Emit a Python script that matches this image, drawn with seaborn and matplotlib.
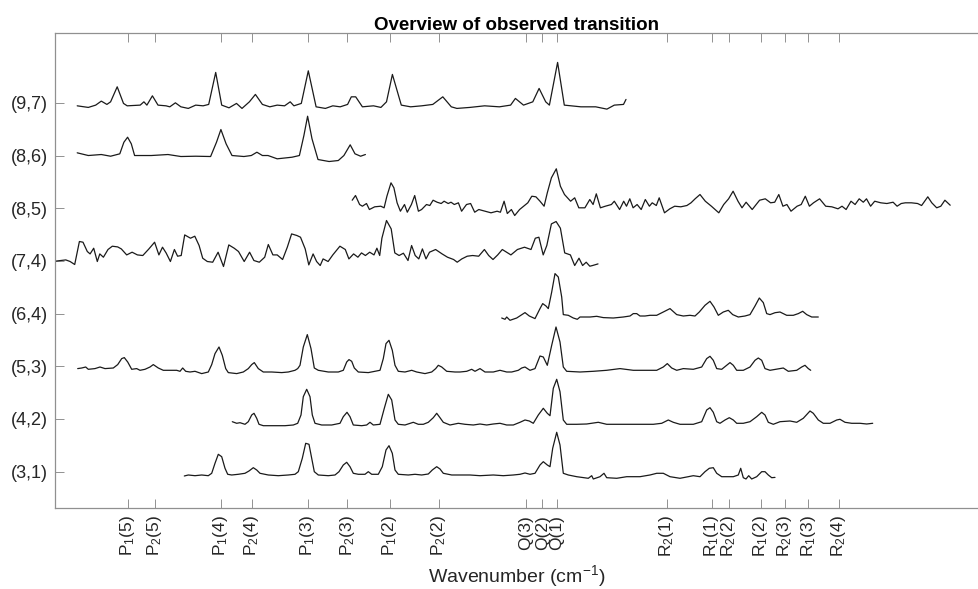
import numpy as np
import pandas as pd
import matplotlib
matplotlib.use("Agg")
import matplotlib.pyplot as plt
import seaborn as sns

# ---------------- data ----------------
band_labels = ['(3,1)', '(4,2)', '(5,3)', '(6,4)', '(7,4)', '(8,5)', '(8,6)', '(9,7)']

tick_pos = [127.7, 154.7, 221.0, 251.7, 307.7, 347.3, 390.0, 438.7, 525.7, 542.3,
            557.0, 667.0, 711.7, 729.0, 760.7, 785.0, 808.3, 839.0]
tick_labels = ['P$_1$(5)', 'P$_2$(5)', 'P$_1$(4)', 'P$_2$(4)', 'P$_1$(3)', 'P$_2$(3)',
               'P$_1$(2)', 'P$_2$(2)', 'Q(3)', 'Q(2)', 'Q(1)', 'R$_2$(1)', 'R$_1$(1)',
               'R$_2$(2)', 'R$_1$(2)', 'R$_2$(3)', 'R$_1$(3)', 'R$_2$(4)']

# (9,7)
x97 = [77.2, 88.3, 95.7, 101.3, 106.9, 110.6, 117.2, 123.5, 127.2, 140.2, 143.9, 146.9, 152.4,
       158.0, 166.0, 169.8, 175.4, 180.9, 188.3, 195.7, 203.1, 208.7, 215.7, 221.7, 229.0, 236.5,
       242.0, 249.4, 255.4, 262.4, 269.8, 277.2, 284.6, 290.2, 293.9, 301.3, 308.3, 316.1, 325.4,
       332.8, 340.2, 347.6, 351.3, 355.7, 362.4, 373.5, 380.9, 386.5, 392.4, 401.3, 410.6, 421.7,
       432.8, 442.8, 451.3, 456.9, 469.8, 484.6, 499.4, 510.6, 515.4, 523.5, 532.8, 539.1, 545.7,
       549.4, 557.6, 564.3, 580.9, 595.7, 606.9, 614.3, 623.5, 626.0]
i97 = [-3.0, -4.6, -2.3, 1.7, -1.6, 1.0, 16.0, -0.6, -3.0, -2.3, 1.0, -2.3, 7.0,
       -2.3, -3.0, -4.0, 0.0, -4.0, -5.6, -2.3, -3.0, -1.6, 30.4, -2.3, -5.0, -0.6,
       -5.6, 1.0, 8.4, -1.6, -4.0, -2.3, -3.0, 1.0, -3.0, -0.6, 32.0, -4.0, -5.6,
       -3.0, -4.0, -1.6, 6.0, 6.0, -4.0, -3.0, -4.6, 1.0, 28.4, -2.3, -4.0, -3.0,
       -1.6, 6.0, -4.0, -5.6, -4.6, -3.0, -4.0, -2.3, 4.4, -2.3, 1.0, 14.4, 1.0,
       -2.3, 40.4, -2.3, -4.0, -4.0, -6.3, -2.3, -1.6, 3.4]

# (8,6)
x86 = [77.2, 88.3, 101.3, 110.6, 119.8, 123.9, 127.6, 131.3, 134.6, 151.3, 168.0, 180.9, 195.7,
       210.6, 216.5, 220.9, 226.1, 232.0, 243.9, 251.3, 256.9, 262.4, 268.0, 277.2, 292.0, 299.4,
       303.9, 307.6, 312.0, 318.0, 329.1, 338.3, 343.9, 350.2, 355.0, 360.6, 365.4]
i86 = [2.7, 0.0, 1.0, -0.7, 1.7, 13.3, 18.3, 11.7, 0.0, 0.0, 1.0, -1.0, -0.7,
       -1.0, 13.3, 26.0, 11.7, 0.0, -1.0, 0.0, 3.3, 0.0, 0.0, -3.3, -1.7, 0.0,
       20.0, 39.3, 16.7, -4.0, -6.0, -5.0, 0.0, 10.7, 1.7, -0.7, 1.0]

# (8,5)
x85 = [352.2, 355.5, 359.6, 362.4, 366.5, 369.4, 374.7, 380.8, 384.1, 386.9, 391.0, 393.9, 397.1,
       400.4, 404.5, 407.3, 411.4, 414.7, 418.4, 421.6, 426.5, 429.8, 433.1, 437.1, 441.2, 444.1,
       448.2, 451.0, 454.3, 458.4, 461.6, 466.5, 470.6, 474.7, 478.8, 484.9, 491.0, 497.1, 500.4,
       504.1, 507.3, 511.4, 514.7, 519.6, 523.7, 527.8, 531.8, 535.9, 540.0, 544.1, 547.3, 551.4,
       556.3, 560.4, 564.5, 570.6, 574.7, 578.8, 584.9, 589.8, 593.1, 596.3, 600.4, 605.3, 611.4,
       614.3, 619.6, 623.7, 626.5, 629.8, 633.1, 637.1, 641.2, 645.3, 649.4, 652.2, 656.3, 659.2,
       664.5, 669.8, 674.7, 680.8, 686.9, 691.0, 695.1, 700.0, 705.3, 711.4, 718.8, 723.7, 728.6,
       733.1, 738.0, 742.0, 746.1, 752.2, 759.6, 765.3, 770.6, 774.7, 778.8, 782.9, 786.9, 791.0,
       797.1, 801.2, 805.3, 809.4, 813.5, 819.6, 825.7, 831.8, 838.0, 842.0, 846.1, 851.0, 855.1,
       859.2, 863.3, 866.5, 870.6, 874.7, 880.8, 886.9, 893.1, 897.1, 901.2, 905.3, 911.4, 917.6,
       921.6, 927.8, 931.8, 936.7, 940.8, 944.9, 950.2]
i85 = [8.0, 12.7, 3.7, 2.0, 4.7, -1.3, 1.4, 2.0, 0.4, 12.0, 25.4, 20.4, 5.4,
       -3.0, 3.7, -4.0, 3.7, 12.7, -3.0, -1.3, 3.7, 2.7, 8.0, 6.0, 4.7, 7.0,
       4.7, 6.0, 3.7, 5.4, -3.0, 3.7, 4.7, -4.0, -1.3, -3.0, -4.6, -3.0, -4.0,
       7.0, -5.3, -1.3, -7.3, -1.3, 2.0, 5.4, 12.0, 11.4, 7.0, 2.0, 15.4, 30.4,
       39.4, 22.0, 13.7, 7.0, 10.4, 0.4, 0.4, 8.7, 3.7, 14.4, 0.4, 2.0, 3.7,
       7.0, -1.3, 7.0, 2.0, 9.4, 0.4, 3.7, -1.3, 8.7, 2.0, 5.4, 2.7, 10.4,
       -4.6, -0.6, 2.0, 1.4, 2.7, 5.4, 9.4, 13.7, 7.0, 2.0, -4.6, 3.7, 9.4,
       17.0, 7.0, 0.4, 6.0, -1.3, 8.0, 9.4, 5.4, 6.0, 13.7, 2.0, 3.7, -3.0,
       2.0, 3.7, 12.0, 2.0, 5.4, 9.4, 2.0, 1.4, -0.6, 2.0, -1.3, 7.0, 3.7,
       9.4, 6.0, 9.4, 2.0, 7.0, 5.4, 4.7, 6.0, 2.0, 4.7, 5.4, 5.4, 4.7,
       2.7, 11.4, 5.4, 0.4, 2.0, 8.0, 3.0]

# (7,4)
x74 = [55.0, 65.8, 70.1, 74.7, 79.4, 83.0, 87.3, 90.1, 93.7, 97.3, 99.8, 103.4, 108.0, 112.3,
       117.7, 121.3, 126.7, 132.1, 137.4, 142.8, 148.9, 154.6, 158.9, 162.5, 166.1, 170.4, 174.4,
       177.6, 181.2, 184.7, 190.5, 194.8, 199.1, 202.7, 207.3, 212.7, 218.1, 223.5, 228.8, 234.2,
       238.5, 244.2, 249.6, 253.9, 259.3, 264.7, 268.3, 272.9, 277.2, 282.6, 287.3, 291.6, 296.9,
       300.5, 305.2, 308.8, 313.1, 316.6, 320.2, 323.1, 328.1, 332.8, 339.9, 345.3, 348.9, 353.6,
       357.9, 361.5, 365.4, 369.7, 374.0, 376.9, 379.7, 381.9, 386.5, 391.2, 394.8, 399.1, 403.4,
       408.0, 411.6, 415.2, 418.8, 422.4, 426.0, 429.5, 435.6, 442.1, 447.5, 453.6, 457.2, 461.8,
       467.2, 472.6, 478.7, 484.4, 488.7, 493.0, 497.7, 502.3, 506.6, 510.9, 517.4, 524.5, 531.0,
       535.3, 538.9, 543.2, 546.8, 551.4, 556.1, 560.4, 564.7, 570.4, 574.7, 579.0, 582.6, 586.2,
       589.8, 592.6, 598.0]
i74 = [-0.3, 1.0, -0.6, -3.6, 19.4, 18.7, 9.4, 7.0, 12.7, -0.6, 7.0, 3.7, 11.4, 14.7,
       14.0, 12.0, 6.0, 8.7, 6.0, 5.4, 12.0, 18.7, 6.0, 13.7, 8.0, -0.6, 11.4,
       4.7, 5.4, 26.0, 22.7, 24.7, 15.4, 2.7, -0.6, -1.3, 8.7, -5.6, 16.0, 12.7,
       9.4, -0.6, 8.7, 0.4, -1.3, 3.7, 16.4, 6.0, 6.0, 1.4, 13.7, 27.0, 25.4,
       23.7, 12.0, -4.0, 7.0, -0.6, -4.6, 2.0, -0.6, 6.0, 14.7, 11.4, 2.0, 7.0,
       3.7, 8.0, 5.4, 8.7, 6.0, 12.7, 5.4, 22.7, 40.4, 32.0, 8.0, 5.4, 7.7,
       0.4, 15.4, 5.4, 2.0, 12.0, 2.0, 8.7, 11.4, 7.0, 3.7, 1.4, -1.3, 2.0,
       4.7, 5.4, 4.7, 11.4, 5.4, 1.4, 6.0, 11.4, 8.7, 6.0, 11.4, 13.7, 11.4,
       22.7, 23.7, 6.0, 15.4, 37.0, 39.4, 32.7, 8.0, 6.0, -4.6, 2.7, -4.6, -1.3,
       -5.3, -4.6, -3.0]

# (6,4)
x64 = [501.7, 505.0, 506.7, 510.0, 516.7, 525.0, 529.3, 535.0, 540.0, 542.7, 546.0, 548.3, 551.7,
       555.0, 558.3, 561.7, 563.3, 568.3, 573.3, 577.3, 580.0, 590.0, 596.7, 603.3, 613.3, 623.3,
       630.0, 633.3, 636.7, 640.0, 645.0, 650.0, 656.7, 663.3, 670.0, 676.7, 683.3, 690.0, 695.0,
       699.3, 705.0, 710.0, 714.0, 718.3, 723.3, 728.3, 732.7, 738.3, 745.0, 750.0, 755.0, 759.3,
       763.3, 766.7, 770.0, 775.0, 780.0, 786.7, 793.3, 798.3, 802.7, 806.7, 811.7, 818.3]
i64 = [-4.4, -5.7, -3.4, -6.7, -4.4, 1.0, -2.4, -5.0, 5.0, 10.0, 7.6, 5.0, 21.6,
       40.0, 36.6, 16.6, -1.0, -1.7, -4.4, -5.7, -3.4, -3.4, -2.7, -4.0, -4.4, -3.4,
       -2.4, 0.0, 0.0, -2.4, -2.4, -1.7, -1.7, 1.6, 5.0, -1.0, -2.4, -1.7, -2.4,
       1.6, 8.3, 12.3, 6.6, -1.7, 1.6, 3.3, -1.0, -3.4, -2.4, -1.0, 7.6, 15.6,
       11.0, 0.0, -1.0, 0.9, 1.6, -1.7, -1.7, 0.0, 2.3, -1.0, -3.4, -3.4]

# (5,3)
x53 = [77.7, 81.7, 85.7, 88.3, 95.0, 100.0, 105.0, 113.3, 117.7, 121.7, 124.3, 127.7, 131.7,
       136.7, 140.0, 145.0, 150.0, 153.3, 158.3, 163.3, 170.0, 176.7, 180.0, 182.7, 185.7, 190.0,
       195.0, 201.7, 208.3, 211.7, 215.0, 219.0, 222.3, 225.7, 228.3, 236.7, 243.3, 248.3, 251.7,
       254.3, 258.3, 263.3, 271.7, 281.7, 288.3, 295.0, 297.7, 300.0, 303.3, 307.3, 311.0, 314.3,
       318.3, 328.3, 338.3, 343.3, 346.7, 349.0, 351.7, 354.3, 358.3, 368.3, 375.0, 380.0, 383.3,
       386.0, 389.0, 392.3, 395.0, 398.3, 405.0, 411.7, 416.7, 425.0, 431.7, 435.7, 438.3, 441.7,
       446.7, 455.0, 460.0, 466.7, 471.7, 475.0, 480.0, 485.0, 493.3, 500.0, 506.7, 511.7, 518.3,
       521.7, 525.0, 530.0, 535.0, 540.0, 543.3, 547.3, 551.7, 556.0, 560.0, 563.3, 566.7, 580.0,
       593.3, 606.7, 620.0, 633.3, 646.7, 656.7, 663.3, 667.3, 671.7, 676.7, 683.3, 693.3, 701.7,
       706.7, 710.0, 713.3, 716.7, 721.7, 726.7, 730.0, 733.3, 736.7, 743.3, 750.0, 755.0, 758.3,
       761.7, 765.0, 770.0, 780.0, 783.3, 788.3, 796.7, 801.7, 805.0, 808.3, 810.7]
i53 = [-2.3, -1.7, -0.7, -3.0, -2.3, -0.7, -2.3, -1.7, 1.7, 7.7, 8.7, 4.3, -3.0,
       -2.3, -4.0, -3.0, -0.7, 1.7, -1.7, -4.0, -4.0, -4.0, -5.0, -1.7, -5.0, -5.7,
       -5.0, -7.3, -5.7, 1.7, 12.7, 19.3, 11.0, -2.3, -6.3, -7.3, -5.7, -2.3, 1.7,
       3.7, -2.3, -5.7, -5.7, -6.3, -5.7, -4.0, -2.3, 1.0, 19.3, 31.7, 17.7, -1.7,
       -4.0, -5.7, -5.7, -4.0, 4.3, 6.7, 5.0, -1.7, -5.7, -6.3, -5.0, -4.0, 7.7,
       22.7, 26.0, 16.0, 1.0, -5.0, -5.7, -4.0, -5.7, -7.3, -5.7, -2.3, 1.0, -0.7,
       -5.0, -5.7, -5.7, -5.0, -3.0, -5.0, -2.3, -5.7, -5.7, -4.0, -5.7, -5.7, -4.0,
       -1.7, -0.7, -4.0, -2.3, 10.3, 9.3, 1.0, 21.0, 39.3, 24.3, -0.7, -5.0, -5.7,
       -5.0, -4.0, -2.3, -4.0, -4.0, -4.0, -0.7, 2.7, -1.7, -4.0, -2.3, -3.0, -0.7,
       7.7, 10.0, 6.0, -2.3, -3.0, 1.0, 3.7, 1.0, -4.0, -4.0, -0.7, 6.0, 8.3,
       6.0, -2.3, -4.0, -2.3, -1.7, -5.0, -4.0, -0.7, 1.0, -2.3, -4.0]

# (4,2)
x42 = [232.3, 236.7, 240.0, 245.0, 248.3, 251.7, 254.0, 256.7, 259.0, 263.3, 275.0, 285.0, 293.3,
       297.7, 301.0, 303.3, 306.7, 310.0, 312.3, 315.0, 321.7, 331.7, 340.0, 343.3, 347.0, 350.0,
       353.3, 361.7, 366.7, 370.0, 373.3, 380.0, 384.3, 388.3, 391.7, 395.0, 398.3, 405.0, 413.3,
       418.3, 423.3, 428.3, 433.3, 436.7, 440.0, 443.3, 450.0, 458.3, 465.0, 473.3, 480.0, 486.7,
       493.3, 500.0, 506.7, 513.3, 520.0, 525.0, 529.3, 533.3, 538.3, 543.3, 547.3, 550.0, 553.3,
       556.7, 560.0, 563.3, 566.7, 576.7, 586.7, 598.3, 606.7, 616.7, 630.0, 643.3, 653.3, 661.7,
       668.3, 673.3, 680.0, 693.3, 701.7, 706.7, 710.0, 713.3, 716.7, 720.0, 725.0, 729.3, 733.3,
       736.7, 743.3, 750.0, 756.7, 761.7, 765.0, 768.3, 773.3, 780.0, 790.0, 796.7, 803.3, 810.0,
       813.3, 818.3, 823.3, 830.0, 836.7, 840.0, 845.0, 851.7, 860.0, 866.7, 872.7]
i42 = [-2.7, -4.3, -3.7, -5.3, -2.7, 4.0, 5.7, 0.7, -5.3, -6.7, -6.7, -6.7, -6.0,
       -4.3, 4.0, 22.3, 29.7, 22.3, 4.0, -4.3, -6.0, -6.0, -4.3, 2.3, 6.7, 2.3,
       -6.0, -6.7, -6.0, -3.3, -6.0, -5.3, 10.7, 24.7, 19.0, -1.0, -5.3, -6.0, -3.3,
       -5.3, -5.3, -3.3, 1.3, 5.7, 1.3, -3.3, -6.0, -4.3, -5.3, -6.0, -5.0, -6.0,
       -5.0, -4.3, -6.0, -6.0, -3.3, -1.0, -2.0, -4.3, 4.0, 10.7, 5.7, 3.3, 30.7,
       39.7, 27.3, -1.0, -5.3, -5.3, -5.0, -3.3, -5.3, -5.3, -5.3, -5.3, -5.3, -4.3,
       -1.0, -3.3, -5.3, -5.3, -2.7, 9.0, 11.3, 6.7, -2.7, -4.3, -1.0, 1.3, -1.0,
       -4.3, -4.3, -2.7, 2.3, 6.7, 4.0, -3.3, -5.3, -2.7, -2.0, -3.3, 0.7, 8.0,
       5.7, -1.0, -4.3, -4.3, -1.0, -0.3, -3.3, -4.3, -4.3, -5.0, -4.3]

# (3,1)
x31 = [184.3, 188.3, 195.0, 201.7, 208.3, 211.7, 215.0, 218.3, 221.7, 225.0, 227.7, 231.7, 238.3,
       245.0, 249.0, 253.3, 256.7, 260.0, 268.3, 278.3, 288.3, 295.0, 298.3, 302.3, 305.7, 309.0,
       311.7, 314.3, 318.3, 328.3, 335.0, 339.0, 343.3, 346.7, 350.0, 353.3, 358.3, 365.0, 368.3,
       371.7, 378.3, 382.3, 386.0, 389.0, 392.3, 395.0, 398.3, 408.3, 415.0, 421.7, 428.3, 432.3,
       436.7, 440.0, 443.3, 451.7, 461.7, 470.0, 480.0, 493.3, 503.3, 513.3, 520.0, 525.0, 530.0,
       535.0, 540.0, 543.3, 547.3, 550.0, 552.7, 556.7, 560.0, 563.3, 568.3, 576.7, 588.3, 591.7,
       593.3, 600.0, 604.0, 606.7, 616.7, 626.7, 640.0, 650.0, 656.7, 663.3, 670.0, 680.0, 688.3,
       693.3, 700.0, 705.0, 709.3, 713.3, 716.7, 721.7, 733.3, 738.3, 740.7, 743.3, 746.0, 748.7,
       751.7, 756.7, 761.7, 765.0, 768.3, 771.7, 775.0]
i31 = [-4.3, -3.3, -4.0, -3.3, -4.0, -1.6, 8.4, 17.4, 15.0, 3.4, -2.6, -3.3, -2.6,
       -1.6, 0.7, 4.0, 1.7, -1.6, -3.3, -4.0, -3.3, -2.6, 0.0, 13.4, 28.4, 27.4,
       13.4, 0.0, -3.3, -4.0, -3.3, 0.0, 6.7, 9.4, 5.0, -1.6, -2.6, -2.6, 0.0,
       -2.6, -2.6, 5.0, 21.7, 26.0, 18.4, 1.7, -2.6, -3.3, -2.6, -3.3, -2.3, 1.7,
       5.0, 2.7, -1.6, -3.3, -3.3, -3.3, -4.0, -3.3, -4.0, -3.3, -2.6, -1.3, -2.6,
       -1.6, 6.7, 10.0, 6.7, 5.0, 23.4, 39.4, 26.7, -1.6, -3.3, -5.0, -6.6, -4.0,
       -7.3, -5.0, -1.6, -6.0, -6.6, -5.0, -5.0, -3.3, -1.6, -1.6, -5.0, -6.6, -5.0,
       -4.0, -5.0, 0.0, 3.4, 4.0, -1.6, -5.0, -5.0, -3.3, 3.4, -6.0, -7.3, -4.0,
       -7.3, -5.0, 0.0, 0.0, -3.3, -6.0, -5.7]

# ---------------- build table ----------------
traces = [(x31, i31), (x42, i42), (x53, i53), (x64, i64),
          (x74, i74), (x85, i85), (x86, i86), (x97, i97)]
SCALE = 52.7  # intensity units per band offset
frames = []
for k, (xs, ys) in enumerate(traces):
    frames.append(pd.DataFrame({
        'wavenumber': xs,
        'signal': k + np.asarray(ys) / SCALE,
        'band': band_labels[k],
    }))
df = pd.concat(frames, ignore_index=True)

# ---------------- plot ----------------
sns.set_theme(style='white')
plt.rcParams['font.family'] = ['Liberation Sans', 'DejaVu Sans']
plt.rcParams['mathtext.default'] = 'regular'
plt.rcParams['text.color'] = '#262626'

fig = plt.figure(figsize=(9.79, 5.89), dpi=100)
ax = fig.add_axes([55 / 979, 1 - 508 / 589, 1 - 55 / 979, (508 - 33) / 589])

sns.lineplot(data=df, x='wavenumber', y='signal', units='band', estimator=None,
             sort=False, color='#1a1a1a', linewidth=0.9, ax=ax, legend=False)

ax.set_xlim(55, 979)
ax.set_ylim(-0.689, 8.325)
ax.set_xticks(tick_pos)
ax.set_xticklabels(tick_labels, rotation=90, fontsize=12.5, color='#262626')
ax.set_yticks(range(len(band_labels)))
ax.set_yticklabels(band_labels, fontsize=13, color='#262626')

ax.tick_params(axis='x', direction='in', length=6.5, width=0.6, color='#808080',
               top=True, bottom=True, pad=5)
ax.tick_params(axis='y', direction='in', length=6.5, width=0.6, color='#808080',
               left=True, right=False, pad=5)
for side in ['left', 'top', 'bottom']:
    ax.spines[side].set_visible(True)
    ax.spines[side].set_color('#909090')
    ax.spines[side].set_linewidth(0.9)
ax.spines['right'].set_visible(False)

ax.set_xlabel('Wavenumber (cm$^{-1}$)', fontsize=14, color='#262626', labelpad=4.5)
ax.set_ylabel('')
ax.set_title('Overview of observed transition', fontsize=13.5, fontweight='bold',
             color='black', pad=2)

fig.savefig('out.png', dpi=100)
